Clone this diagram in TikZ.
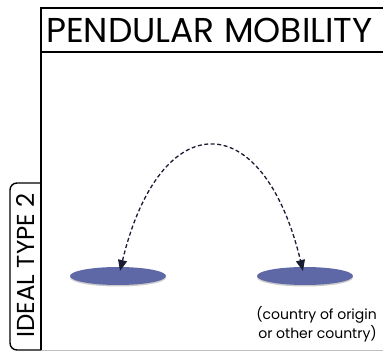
\documentclass[tikz,border=0pt]{standalone}
\usepackage{fontspec}
\setmainfont{Poppins}
\usetikzlibrary{arrows.meta,shadows,shapes.geometric}
\definecolor{blob}{RGB}{95,104,166}
\definecolor{arcol}{RGB}{25,28,50}
\tikzset{
  frame/.style={line width=1.4pt,black},
  blobnode/.style={ellipse,fill=blob,minimum width=96pt,minimum height=18pt,inner sep=0pt,
    drop shadow={shadow xshift=0pt,shadow yshift=-1.5pt,opacity=0.35,fill=black!60}},
  swing/.style={arcol,line width=1.3pt,dash pattern=on 4pt off 2.5pt,
    {Triangle[length=11pt,width=9pt]}-{Triangle[length=11pt,width=9pt]}},
}
\begin{document}
\begin{tikzpicture}[x=1pt,y=-1pt]
\useasboundingbox (0,0) rectangle (383,352);
% main box
\draw[frame] (383,8) -- (41,8) -- (41,350);
\draw[frame] (41,52) -- (383,52);
\draw[black!25,line width=0.8pt] (41,350.5) -- (383,350.5);
% tab
\draw[frame,rounded corners=7pt] (41,183) -- (10,183) -- (10,350) -- (41,350);
\node[rotate=90,font=\fontsize{24.5}{24.5}\selectfont,inner sep=0pt] (tab) at (25.5,265.5) {IDEAL TYPE 2};
% title
\node[font=\fontsize{34.5}{34.5}\selectfont,inner sep=0pt,anchor=west] (title) at (46,30) {PENDULAR MOBILITY};
% blobs
\node[blobnode] (L) at (118,276) {};
\node[blobnode] (R) at (305,276) {};
\coordinate (lt) at (120,271);
\coordinate (rt) at (303,271);
\draw[swing] (lt) .. controls (160,105) and (263,105) .. (rt);
% caption
\node[font=\fontsize{14}{19.5}\selectfont,align=right,inner sep=0pt,anchor=north east] (cap) at (377,306) {(country of origin\\or other country)};
\end{tikzpicture}
\end{document}
